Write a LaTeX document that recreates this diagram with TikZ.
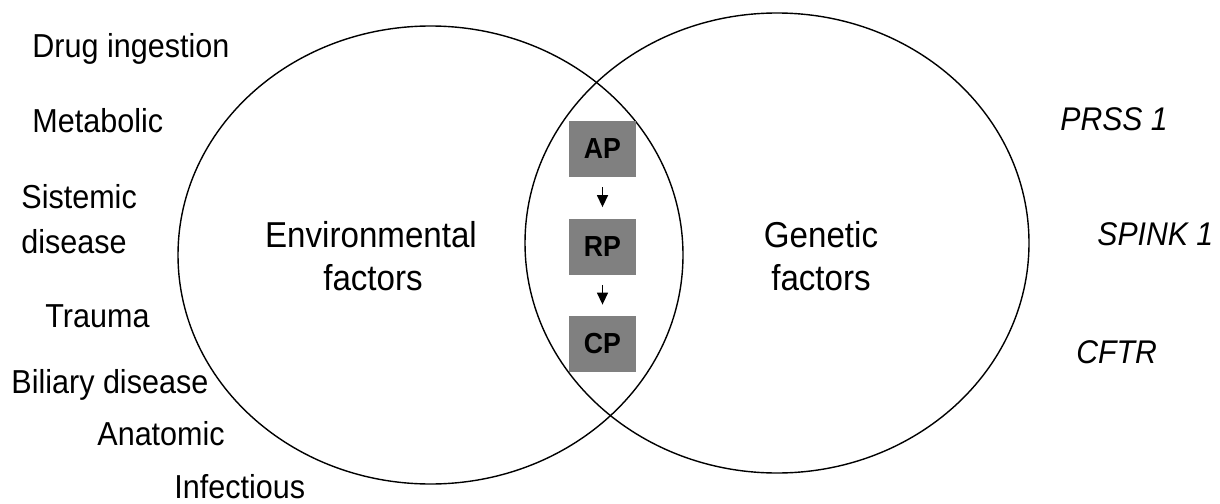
\documentclass[tikz,border=0pt]{standalone}
\usepackage{fontspec}
\setmainfont{Liberation Sans}[FakeStretch=0.92]
\usetikzlibrary{shapes.geometric,arrows.meta}
\definecolor{boxgray}{RGB}{128,128,128}
\tikzset{
  sidelabel/.style={anchor=base west, inner sep=0pt, font=\fontsize{16.6pt}{19pt}\selectfont},
  genelabel/.style={anchor=base west, inner sep=0pt, font=\fontsize{16.4pt}{19pt}\selectfont\itshape},
  biglabel/.style={anchor=base, inner sep=0pt, font=\fontsize{18pt}{21pt}\selectfont},
  venn/.style={draw, ellipse, line width=0.7pt, inner sep=0pt},
  stagebox/.style={fill=boxgray, minimum width=33.5pt, minimum height=28pt, inner sep=0pt,
    font=\fontsize{14.5pt}{17pt}\selectfont\bfseries},
  stagearrow/.style={line width=0.7pt, -{Triangle[length=6pt,width=5.5pt]}, shorten <=5pt, shorten >=5.5pt}
}
\begin{document}
\begin{tikzpicture}[x=0.5pt,y=-0.5pt]
\useasboundingbox (0,0) rectangle (1220,503);
% Venn ellipses
\node[venn, minimum width=252.5pt, minimum height=229pt] (env) at (430.5,255) {};
\node[venn, minimum width=252pt, minimum height=230pt] (gen) at (777,243) {};
% centre labels
\node[biglabel] (envA) at (371,247) {Environmental};
\node[biglabel] (envB) at (373,290) {factors};
\node[biglabel] (genA) at (821,247) {Genetic};
\node[biglabel] (genB) at (821,290) {factors};
% stage boxes
\node[stagebox] (ap) at (602.5,149) {AP};
\node[stagebox] (rp) at (602.5,246.5) {RP};
\node[stagebox] (cp) at (602.5,344) {CP};
\draw[stagearrow] (ap) -- (rp);
\draw[stagearrow] (rp) -- (cp);
% environmental factors list
\node[sidelabel] (drug) at (32,57) {Drug ingestion};
\node[sidelabel] (meta) at (32,132) {Metabolic};
\node[sidelabel] (sistA) at (21,208) {Sistemic};
\node[sidelabel] (sistB) at (21,253) {disease};
\node[sidelabel] (trauma) at (45,327) {Trauma};
\node[sidelabel] (bili) at (11,393) {Biliary disease};
\node[sidelabel] (anat) at (97,445) {Anatomic};
\node[sidelabel] (infe) at (174,498) {Infectious};
% genetic factors list
\node[genelabel] (prss) at (1060,130) {PRSS 1};
\node[genelabel] (spink) at (1097,245) {SPINK 1};
\node[genelabel] (cftr) at (1076,363) {CFTR};
\end{tikzpicture}
\end{document}
